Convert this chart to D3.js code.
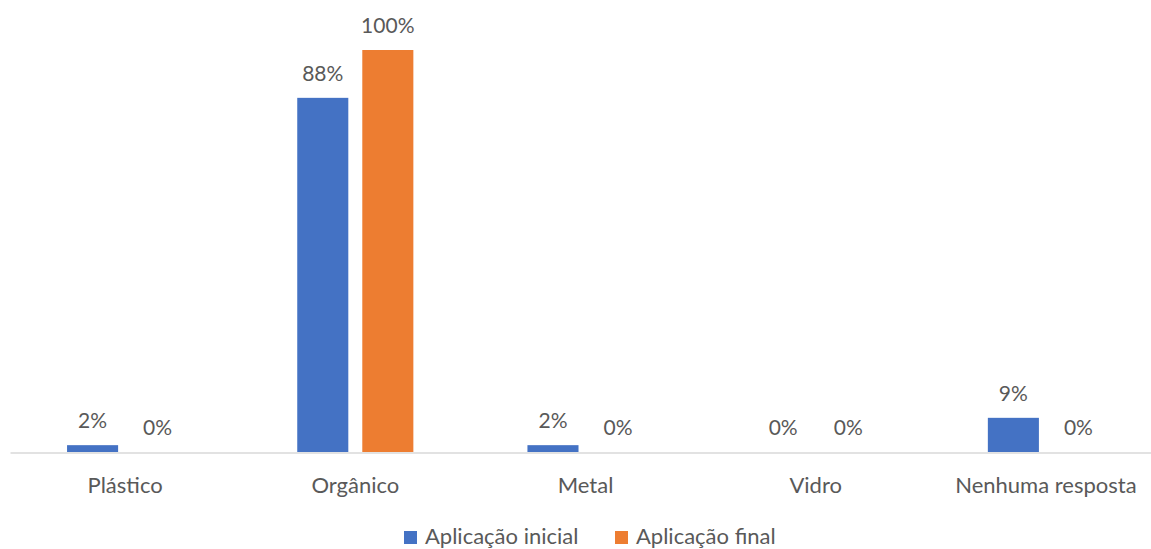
<!DOCTYPE html>
<html>
<head>
<meta charset="utf-8">
<script src="https://cdn.jsdelivr.net/npm/d3@7"></script>
<style>
  body { margin: 0; background: #fff; }
  svg text { font-family: Lato, "Open Sans", sans-serif; fill: #595959; }
</style>
</head>
<body>
<svg id="chart" width="1151" height="549"></svg>
<script>
// chart data
var categories = ["Plástico", "Orgânico", "Metal", "Vidro", "Nenhuma resposta"];
var seriesNames = ["Aplicação inicial", "Aplicação final"];
var inicial = [1.7, 88.1, 1.7, 0, 8.5];
var final = [0, 100, 0, 0, 0];
var colors = ["#4472c4", "#ed7d31"];

var svg = d3.select("#chart");

var x = d3.scaleBand().domain(categories).range([10, 1161]).paddingInner(0).paddingOuter(0);
var xs = d3.scaleBand().domain(seriesNames).range([0, x.bandwidth()]).paddingInner(0.215).paddingOuter(0.877);
var y = d3.scaleLinear().domain([0, 100]).range([452, 50]);

var rows = categories.map(function(c, i){
  return {cat: c, vals: [inicial[i], final[i]]};
});

var groups = svg.selectAll("g.cat").data(rows).enter().append("g")
  .attr("class", "cat")
  .attr("transform", function(d){ return "translate(" + x(d.cat) + ",0)"; });

groups.selectAll("rect").data(function(d){
    return d.vals.map(function(v, k){ return {s: seriesNames[k], v: v, k: k}; });
  }).enter().append("rect")
  .attr("x", function(d){ return xs(d.s); })
  .attr("width", xs.bandwidth())
  .attr("y", function(d){ return y(d.v); })
  .attr("height", function(d){ return y(0) - y(d.v); })
  .attr("fill", function(d){ return colors[d.k]; });

groups.selectAll("text").data(function(d){
    return d.vals.map(function(v, k){ return {s: seriesNames[k], v: v}; });
  }).enter().append("text")
  .attr("x", function(d){ return xs(d.s) + xs.bandwidth() / 2; })
  .attr("y", function(d){ return y(d.v) - 17; })
  .attr("text-anchor", "middle")
  .style("font-size", "21px")
  .text(function(d){ return Math.round(d.v) + "%"; });

// x axis
var axis = svg.append("g").attr("transform", "translate(0," + 452.5 + ")")
  .call(d3.axisBottom(x).tickSize(0).tickPadding(0));
axis.select(".domain").attr("stroke", "#d9d9d9").attr("stroke-width", 1.5);
axis.selectAll(".tick text")
  .attr("dy", null)
  .attr("y", 40)
  .attr("fill", "#595959")
  .style("font-family", "Lato, 'Open Sans', sans-serif")
  .style("font-size", "22px");

// legend
var legendX = [404, 615];
var legend = svg.selectAll("g.legend").data(seriesNames).enter().append("g")
  .attr("class", "legend")
  .attr("transform", function(d, i){ return "translate(" + legendX[i] + ",531)"; });
legend.append("rect").attr("width", 13).attr("height", 13)
  .attr("fill", function(d, i){ return colors[i]; });
legend.append("text").attr("x", 21).attr("y", 13)
  .style("font-size", "22px")
  .text(function(d){ return d; });
</script>
</body>
</html>
